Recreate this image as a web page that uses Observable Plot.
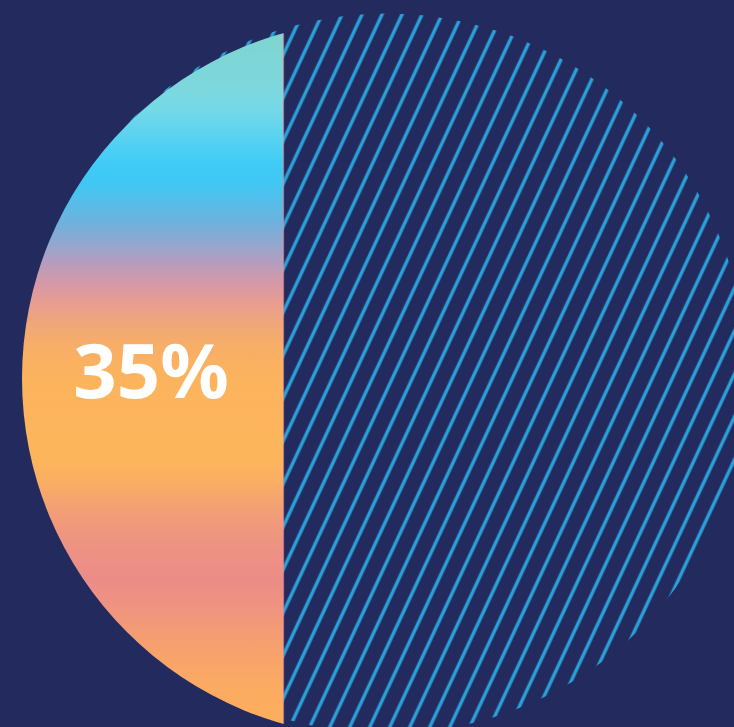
<!DOCTYPE html>
<html>
<head>
<meta charset="utf-8">
<script src="https://cdn.jsdelivr.net/npm/d3@7"></script>
<script src="https://cdn.jsdelivr.net/npm/@observablehq/plot@0.6"></script>
<style>
  html, body { margin: 0; padding: 0; background: #232A5E; }
  #chart svg { display: block; }
</style>
</head>
<body>
<div id="chart"></div>
<script>
// ---- data ----
const categories = ["Filled", "Remaining"];
const shares = [35, 65];
const labels = ["35%"];

// ---- styles ----
const BG = "#232A5E";
const HATCH = "#2A9FD8";
const gradientStops = [
  [0.000, "#7ED4CF"], [0.082, "#7DD8DE"], [0.111, "#74D9E8"], [0.148, "#5BD3F1"],
  [0.191, "#3ECBF6"], [0.220, "#42C6F4"], [0.249, "#58BCE7"], [0.278, "#72B0DB"],
  [0.302, "#8FA8CF"], [0.324, "#AAA0C3"], [0.346, "#C59AB3"], [0.368, "#DA98A3"],
  [0.389, "#E69D90"], [0.418, "#EFA67B"], [0.452, "#F7AE67"], [0.495, "#FCB35D"],
  [0.618, "#FDB55B"], [0.654, "#F9AC65"], [0.693, "#F29E77"], [0.741, "#EE9283"],
  [0.792, "#EC8C88"], [0.838, "#F0957D"], [0.886, "#F6A06E"], [0.944, "#FBAA62"],
  [1.000, "#FDAF5B"]
];

const W = 734, H = 727;
const segData = [{category: categories[0], x1: 0, x2: shares[0]}];

const plot = Plot.plot({
  width: W,
  height: H,
  margin: 0,
  style: {background: BG, overflow: "hidden"},
  x: {domain: [0, 100], range: [22, 768], axis: null},
  y: {axis: null},
  marks: [
    // hatched background disc
    Plot.dot([categories[1]], {frameAnchor: "middle", dx: 19, dy: 9.5, r: 360, fill: "url(#hatch)", stroke: "none"}),
    // gradient filled share
    Plot.barX(segData, {x1: "x1", x2: "x2", fill: "url(#grad)"}),
    Plot.ruleX([shares[0]], {stroke: "#E8909A", strokeWidth: 1, strokeOpacity: 0.8}),
    // label
    Plot.text(labels, {
      x: [shares[0] / 2], text: d => d, dx: -2, dy: 10,
      fill: "white", fontSize: 76, fontWeight: 700, fontFamily: "Noto Sans",
      textAnchor: "middle", lineAnchor: "middle"
    })
  ]
});

const svg = d3.select(plot);
const defs = svg.insert("defs", ":first-child");

const pat = defs.append("pattern")
  .attr("id", "hatch")
  .attr("patternUnits", "userSpaceOnUse")
  .attr("width", 20).attr("height", 20)
  .attr("patternTransform", "skewX(-25)");
pat.append("rect").attr("width", 20).attr("height", 20).attr("fill", BG);
pat.append("rect").attr("x", 2.7).attr("y", -1).attr("width", 3.8).attr("height", 22).attr("fill", HATCH);

const grad = defs.append("linearGradient")
  .attr("id", "grad")
  .attr("gradientUnits", "userSpaceOnUse")
  .attr("x1", 0).attr("y1", 33).attr("x2", 0).attr("y2", 724);
gradientStops.forEach(([o, c]) => grad.append("stop").attr("offset", o).attr("stop-color", c));

defs.append("clipPath").attr("id", "disc")
  .append("circle").attr("cx", 381).attr("cy", 378.5).attr("r", 359);

const groups = plot.querySelectorAll(":scope > g");
// order: dot, bar, rule, text
[groups[1], groups[2]].forEach(g => g && g.setAttribute("clip-path", "url(#disc)"));

document.getElementById("chart").appendChild(plot);
</script>
</body>
</html>
